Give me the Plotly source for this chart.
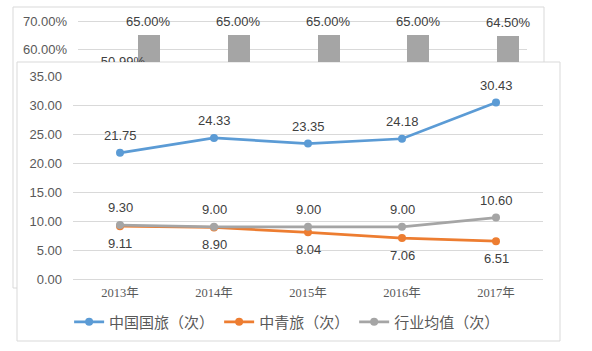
import plotly.graph_objects as go

W, H = 592, 351

# ---------------- data ----------------
years = ["2013年", "2014年", "2015年", "2016年", "2017年"]
cits = [21.75, 24.33, 23.35, 24.18, 30.43]      # 中国国旅（次）
cyts = [9.11, 8.90, 8.04, 7.06, 6.51]           # 中青旅（次）
industry_avg = [9.30, 9.00, 9.00, 9.00, 10.60]  # 行业均值（次）
y_ticks = [0, 5, 10, 15, 20, 25, 30, 35]

# background (partly hidden) chart
bg_rates = [65.00, 65.00, 65.00, 65.00, 64.50]
bg_other_years = ["2013年"]
bg_other = [50.99]
bg_ticks = [60, 70]

BLUE, ORANGE, GRAY = "#5b9bd5", "#ed7d31", "#a5a5a5"
GRID = "#d9d9d9"
TXT = "#595959"
LBL = "#404040"
NUMFONT = "Liberation Sans, Arial, sans-serif"
CJKFONT = "Liberation Serif, Noto Sans CJK SC, serif"

def px_x(p):
    return p / W

def px_y(p):
    return (H - p) / H

fig = go.Figure()

# ---------------- foreground line chart ----------------
series = [("中国国旅（次）", cits, BLUE, 1),
          ("中青旅（次）", cyts, ORANGE, -1),
          ("行业均值（次）", industry_avg, GRAY, 1)]
for name, vals, col, _ in series:
    fig.add_trace(go.Scatter(
        x=years, y=vals, name=name, mode="lines+markers",
        line=dict(color=col, width=2.75),
        marker=dict(color=col, size=8),
        xaxis="x", yaxis="y", cliponaxis=False))

annotations = []
for name, vals, col, side in series:
    for xv, yv in zip(years, vals):
        annotations.append(dict(
            x=xv, y=yv, xref="x", yref="y", text=f"{yv:.2f}",
            showarrow=False, yshift=17.5 * side,
            font=dict(family=NUMFONT, size=13, color=LBL)))

# ---------------- background bar chart ----------------
BAR_OFF, BAR_W = 0.167, 0.245
fig.add_trace(go.Bar(
    x=years, y=bg_rates, xaxis="x2", yaxis="y2", showlegend=False,
    marker=dict(color=GRAY, line=dict(width=0)),
    offset=BAR_OFF, width=BAR_W, hoverinfo="skip"))
fig.add_trace(go.Scatter(
    x=bg_other_years, y=bg_other, xaxis="x2", yaxis="y2", showlegend=False,
    mode="markers+text", text=[f"{v:.2f}%" for v in bg_other],
    textposition="top center", cliponaxis=True,
    marker=dict(size=6, color="rgba(0,0,0,0)"),
    textfont=dict(family=NUMFONT, size=13, color=LBL), hoverinfo="skip"))
for i, v in enumerate(bg_rates):
    annotations.append(dict(
        x=i + BAR_OFF + BAR_W / 2, y=v, xref="x2", yref="y2",
        text=f"{v:.2f}%", showarrow=False, yshift=13.5,
        font=dict(family=NUMFONT, size=13, color=LBL)))

# ---------------- frames ----------------
shapes = [
    # background chart frame (only visible parts)
    dict(type="path", xref="paper", yref="paper", layer="below",
         path=(f"M {px_x(544)},{px_y(62)} L {px_x(544)},{px_y(7)} "
               f"L {px_x(13)},{px_y(7)} L {px_x(13)},{px_y(288)} "
               f"L {px_x(17)},{px_y(288)}"),
         line=dict(color=GRID, width=1)),
    # foreground chart frame
    dict(type="rect", xref="paper", yref="paper", layer="below",
         x0=px_x(17), x1=px_x(560), y0=px_y(341), y1=px_y(62),
         line=dict(color=GRID, width=1), fillcolor="white"),
]

fig.update_layout(
    template="none",
    width=W, height=H,
    margin=dict(l=0, r=0, t=0, b=0, pad=0),
    paper_bgcolor="white", plot_bgcolor="rgba(0,0,0,0)",
    showlegend=True,
    legend=dict(orientation="h", x=0.485, xanchor="center",
                y=px_y(322), yanchor="middle",
                font=dict(family=CJKFONT, size=15, color=TXT),
                bgcolor="rgba(0,0,0,0)", itemwidth=30, tracegroupgap=0),
    xaxis=dict(domain=[px_x(73), px_x(543)], anchor="y", type="category",
               range=[-0.5, 4.5], automargin=False,
               showgrid=False, zeroline=False, showline=False,
               ticks="", ticklabelstandoff=4,
               tickfont=dict(family=CJKFONT, size=12.5, color=TXT)),
    yaxis=dict(domain=[px_y(279), px_y(76)], anchor="x", range=[0, 35],
               automargin=False,
               tickvals=y_ticks, ticktext=[f"{t:.2f}" for t in y_ticks],
               showgrid=True, gridcolor=GRID, gridwidth=1,
               zeroline=True, zerolinecolor=GRID, zerolinewidth=1,
               showline=False, ticks="", ticklabelstandoff=10,
               tickfont=dict(family=NUMFONT, size=13, color=TXT)),
    xaxis2=dict(domain=[px_x(78), px_x(527)], anchor="y2", type="category",
                automargin=False,
                range=[-0.5, 4.5], showgrid=False, zeroline=False,
                showline=False, showticklabels=False, ticks=""),
    yaxis2=dict(domain=[px_y(62), px_y(7)], anchor="x2",
                automargin=False,
                range=[60 - (62 - 49) / 2.8, 70 + (21 - 7) / 2.8],
                tickvals=bg_ticks, ticktext=[f"{t:.2f}%" for t in bg_ticks],
                showgrid=True, gridcolor=GRID, gridwidth=1,
                zeroline=False, showline=False, ticks="", ticklabelstandoff=10,
                tickfont=dict(family=NUMFONT, size=13, color=TXT)),
    shapes=shapes,
    annotations=annotations,
    bargap=0,
)

fig.write_html("out.html")
